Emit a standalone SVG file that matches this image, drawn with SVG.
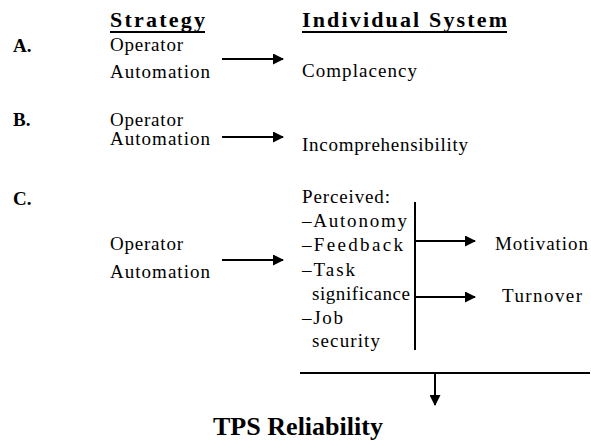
<svg xmlns="http://www.w3.org/2000/svg" width="591" height="442" viewBox="0 0 591 442">
<defs>
<style>
text{font-family:"Liberation Serif","Times New Roman",serif;fill:#000}
.t{font-size:19px}
.h{font-size:22px;font-weight:bold}
.l{font-size:19px;font-weight:bold}
.line{stroke:#000;stroke-width:2;fill:none}
</style>
<marker id="ah" markerWidth="11" markerHeight="11" refX="10" refY="5.5" orient="auto" markerUnits="userSpaceOnUse">
<path d="M0,0 L11,5.5 L0,11 Z" fill="#000"/>
</marker>
</defs>
<rect width="591" height="442" fill="#fff"/>
<g id="headers">
<text class="h" x="110" y="27" textLength="95" lengthAdjust="spacing">Strategy</text>
<line class="line" x1="110" y1="32" x2="205" y2="32"/>
<text class="h" x="302" y="27" textLength="205" lengthAdjust="spacing">Individual System</text>
<line class="line" x1="302" y1="32" x2="507" y2="32"/>
</g>
<g id="labels">
<text class="l" x="13" y="52">A.</text>
<text class="l" x="13" y="126">B.</text>
<text class="l" x="13" y="205">C.</text>
</g>
<g id="A-strategy">
<text class="t" x="110" y="51" textLength="73" lengthAdjust="spacing">Operator</text>
<text class="t" x="110" y="78" textLength="100" lengthAdjust="spacing">Automation</text>
</g>
<g id="A-outcome"><text class="t" x="302" y="77" textLength="115" lengthAdjust="spacing">Complacency</text></g>
<g id="B-strategy">
<text class="t" x="110" y="126" textLength="73" lengthAdjust="spacing">Operator</text>
<text class="t" x="110" y="145" textLength="100" lengthAdjust="spacing">Automation</text>
</g>
<g id="B-outcome"><text class="t" x="302" y="151" textLength="166" lengthAdjust="spacing">Incomprehensibility</text></g>
<g id="C-strategy">
<text class="t" x="110" y="250" textLength="73" lengthAdjust="spacing">Operator</text>
<text class="t" x="110" y="278" textLength="100" lengthAdjust="spacing">Automation</text>
</g>
<g id="C-perceived">
<text class="t" x="302" y="203" textLength="88" lengthAdjust="spacing">Perceived:</text>
<text class="t" x="302" y="227" textLength="105" lengthAdjust="spacing">–Autonomy</text>
<text class="t" x="302" y="251" textLength="101" lengthAdjust="spacing">–Feedback</text>
<text class="t" x="302" y="276" textLength="53" lengthAdjust="spacing">–Task</text>
<text class="t" x="312" y="300" textLength="98" lengthAdjust="spacing">significance</text>
<text class="t" x="302" y="324" textLength="41" lengthAdjust="spacing">–Job</text>
<text class="t" x="312" y="347" textLength="68" lengthAdjust="spacing">security</text>
</g>
<g id="motivation"><text class="t" x="495" y="250" textLength="93" lengthAdjust="spacing">Motivation</text></g>
<g id="turnover"><text class="t" x="502" y="302" textLength="80" lengthAdjust="spacing">Turnover</text></g>
<g id="tps"><text x="213" y="435" font-size="25" font-weight="bold" textLength="170" lengthAdjust="spacingAndGlyphs">TPS Reliability</text></g>
<g id="connectors">
<line class="line" x1="222" y1="59" x2="283" y2="59" marker-end="url(#ah)"/>
<line class="line" x1="222" y1="137" x2="283" y2="137" marker-end="url(#ah)"/>
<line class="line" x1="222" y1="260" x2="283" y2="260" marker-end="url(#ah)"/>
<line class="line" x1="415" y1="202" x2="415" y2="350"/>
<line class="line" x1="415" y1="241" x2="475" y2="241" marker-end="url(#ah)"/>
<line class="line" x1="415" y1="297" x2="475" y2="297" marker-end="url(#ah)"/>
<line class="line" x1="300" y1="373" x2="590" y2="373"/>
<line class="line" x1="435" y1="373" x2="435" y2="405" marker-end="url(#ah)"/>
</g>
</svg>
